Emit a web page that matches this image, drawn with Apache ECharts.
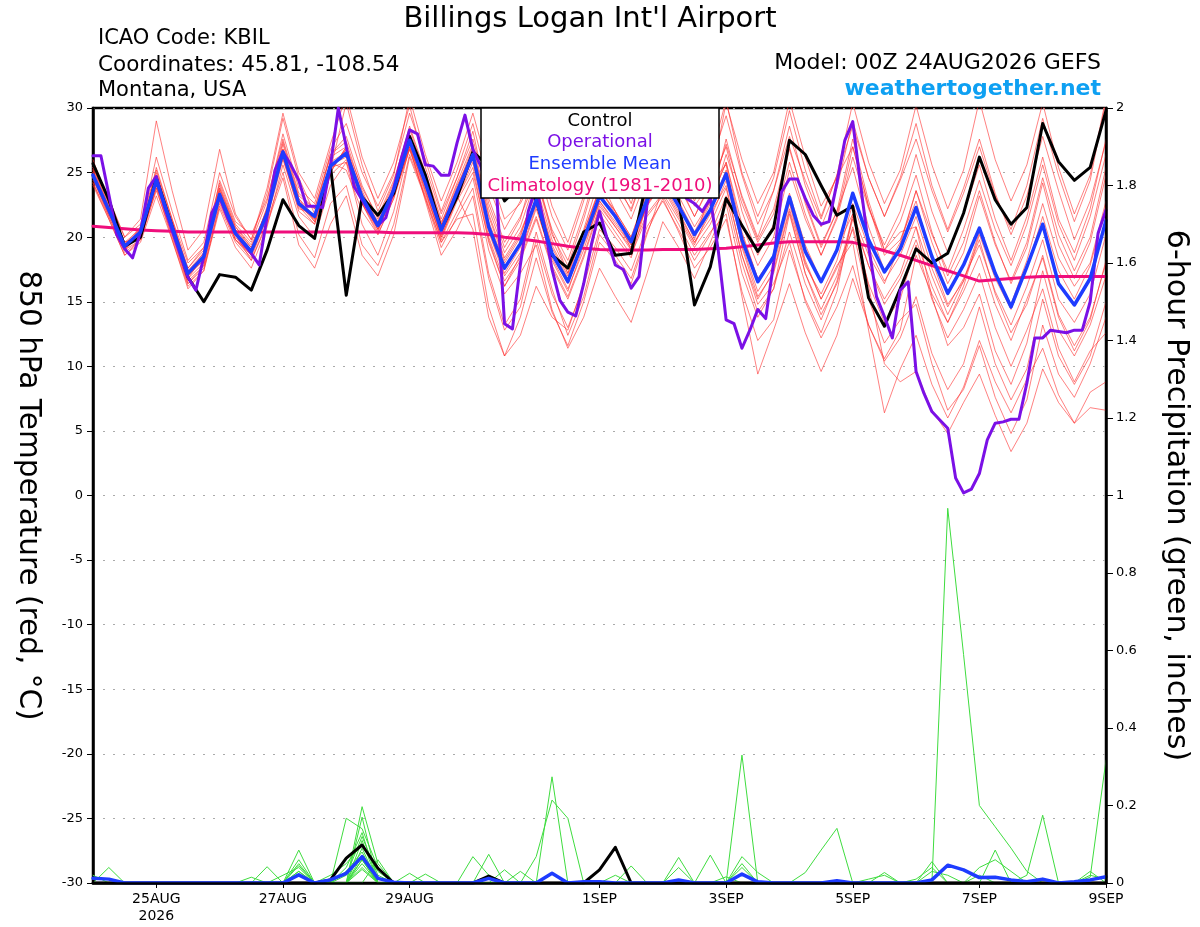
<!DOCTYPE html>
<html>
<head>
<meta charset="utf-8">
<title>Billings Logan Int'l Airport</title>
<script src="https://cdn.jsdelivr.net/npm/echarts@6/dist/echarts.min.js"></script>
<style>
  html, body { margin: 0; padding: 0; background: #fff; }
  #main { width: 1200px; height: 927px; }
</style>
</head>
<body>
<div id="main"></div>
<script>
// forecast hours: 0..384, members every 6 h, operational every 3 h
var tickHours  = [24, 72, 120, 192, 240, 288, 336, 384];
var tickLabels = ['25AUG\n2026', '27AUG', '29AUG', '1SEP', '3SEP', '5SEP', '7SEP', '9SEP'];

// 850 hPa temperature (C), 6-hourly
var controlTemp = [25.7,22.9,19.3,20.0, 24.6,20.8,16.9,15.0, 17.1,16.9,15.9,19.0, 22.9,20.9,19.9,25.5,
  15.5,23.1,21.7,23.4, 27.8,24.8,20.6,23.1, 26.6,25.5,22.8,24.0, 22.9,18.6,17.6,20.4,
  21.1,18.6,18.75,24.5, 25.5,22.9,14.75,17.7, 23.0,20.9,18.9,20.7, 27.5,26.4,24.0,21.7,
  22.4,15.3,13.1,16.0, 19.1,18.0,18.75,21.85, 26.2,22.9,21.0,22.3, 28.8,25.85,24.4,25.4, 29.8];

var meanTemp = [24.8,22.1,19.3,20.4, 24.4,20.8,17.2,18.5, 23.3,20.3,18.9,21.85, 26.6,22.6,21.6,25.5,
  26.5,23.1,20.9,23.65, 27.5,24.2,20.55,23.5, 26.4,20.8,17.6,19.5, 22.9,18.75,16.55,19.8,
  23.2,21.6,19.65,22.9, 24.5,22.4,20.2,22.1, 24.9,19.8,16.55,18.5, 23.1,18.9,16.55,19.0,
  23.4,19.8,17.3,19.1, 22.3,18.5,15.65,17.85, 20.7,17.2,14.6,17.7, 21.0,16.4,14.75,16.8, 21.3];

var climoTemp = [20.85,20.75,20.65,20.55, 20.5,20.45,20.4,20.4, 20.4,20.4,20.4,20.4, 20.4,20.4,20.4,20.4,
  20.4,20.4,20.4,20.35, 20.35,20.35,20.35,20.35, 20.3,20.2,20.0,19.85, 19.7,19.5,19.3,19.15,
  19.05,19.0,19.0,19.0, 19.05,19.05,19.05,19.1, 19.15,19.25,19.4,19.55, 19.65,19.65,19.65,19.65,
  19.6,19.3,18.95,18.6, 18.2,17.8,17.4,17.0, 16.6,16.7,16.8,16.9, 16.95,16.95,16.95,16.95, 16.95];

// operational run, 3-hourly
var operTemp = [26.3,26.3,23.3,20.2,19.1,18.4,20.4,23.8,
  24.7,22.4,20.5,18.7,16.9,15.9,18.5,21.85,
  23.1,21.5,20.3,19.5,18.75,17.85,21.6,25.2,
  26.6,25.6,24.4,22.4,22.4,22.3,25.5,30.0,
  27.0,23.9,22.9,21.85,20.9,21.5,23.8,26.2,
  28.3,28.0,25.6,25.5,24.8,24.8,27.3,29.45,
  26.8,25.5,23.5,23.5,13.3,12.9,17.85,22.0,
  24.0,21.0,17.5,15.1,14.2,13.9,16.4,19.5,
  22.0,19.8,17.85,17.5,16.05,16.95,22.5,25.5,
  25.5,24.5,24.0,23.0,22.6,22.0,23.0,19.0,
  13.6,13.3,11.4,12.8,14.4,13.7,18.0,23.5,
  24.5,24.5,23.0,21.7,21.0,21.2,24.2,27.5,
  28.95,24.0,19.3,15.4,13.85,12.2,15.9,16.55,
  9.6,7.9,6.5,5.85,5.2,1.35,0.2,0.5,
  1.7,4.3,5.6,5.7,5.9,5.9,8.7,12.2,
  12.2,12.8,12.7,12.6,12.8,12.8,15.0,20.3,
  22.1];

// ensemble members, 850 hPa temperature
var mem01 = [25.6,22.8,20.0,21.0, 25.2,21.4,18.0,19.2, 24.2,21.0,19.6,22.8, 28.0,23.8,22.6,26.8, 28.8,25.0,22.4,25.0, 29.6,26.0,22.0,25.2, 28.8,24.0,20.6,22.8, 26.8,22.4,19.6,23.2, 27.6,24.6,22.0,25.6, 28.6,25.4,22.8,25.6, 29.4,24.8,21.0,23.6, 28.6,24.0,20.8,23.8, 29.0,24.6,21.6,24.6, 28.8,24.0,20.6,23.8, 27.6,23.4,20.2,23.2, 27.8,23.6,19.8,22.8, 27.4];
var mem02 = [25.0,22.2,19.0,20.6, 26.2,22.0,18.2,19.6, 25.0,21.6,19.8,23.4, 29.2,24.6,21.8,25.2, 30.4,25.6,22.0,24.8, 30.8,26.4,22.8,25.8, 29.6,25.2,21.4,22.6, 25.0,20.4,17.2,20.6, 24.6,22.0,19.0,22.6, 26.8,24.2,21.6,24.2, 30.4,26.0,22.6,25.0, 30.6,26.2,22.4,24.6, 27.0,22.4,18.6,19.8, 22.8,18.2,14.8,16.6, 19.8,15.6,12.6,14.8, 18.6,14.0,11.6,13.8, 18.0];
var mem03 = [24.2,21.6,18.8,19.8, 23.6,20.2,16.4,17.6, 22.4,19.6,18.2,21.0, 24.6,19.4,17.6,21.0, 23.2,18.6,17.0,20.2, 26.2,23.0,19.6,21.4, 21.8,14.6,10.8,13.8, 18.4,14.2,11.6,15.0, 19.6,18.2,16.4,20.2, 23.8,21.6,19.4,22.2, 26.4,22.6,19.6,21.8, 26.8,22.8,19.4,22.0, 25.4,20.8,17.4,19.6, 23.6,19.6,16.4,18.8, 23.2,19.4,16.6,19.6, 24.6,20.2,17.4,20.0, 25.4];
var mem04 = [25.2,22.4,19.6,20.2, 24.8,20.6,16.8,18.0, 23.8,20.8,19.4,22.0, 27.2,23.0,21.2,25.0, 27.0,23.8,21.6,24.4, 28.4,24.8,21.2,23.2, 20.6,13.8,10.8,12.4, 16.2,13.8,12.8,16.4, 21.8,20.0,18.4,22.6, 25.4,22.6,19.8,23.4, 27.2,23.2,20.0,23.6, 27.8,24.4,21.4,24.8, 28.6,24.6,21.6,24.4, 27.6,23.6,20.4,23.4, 27.0,23.2,20.6,24.0, 29.2,24.8,21.2,24.4, 30.6];
var mem05 = [24.6,21.8,19.2,20.6, 24.0,20.4,16.8,18.6, 23.8,20.6,19.0,21.4, 26.0,22.2,21.8,26.4, 27.4,23.6,21.0,23.2, 27.0,23.8,20.2,23.0, 25.8,20.0,16.6,18.4, 21.6,17.8,15.4,18.6, 22.4,20.8,19.0,21.8, 23.4,21.4,19.2,21.0, 23.8,18.6,15.2,17.4, 22.2,17.8,15.6,18.2, 22.6,19.2,16.6,18.6, 21.6,17.6,14.6,16.8, 19.4,15.8,13.2,16.2, 19.8,15.2,13.4,15.6, 20.2];
var mem06 = [25.4,22.6,19.6,20.0, 23.8,21.2,17.6,19.2, 23.0,20.0,18.6,22.4, 27.4,23.2,22.2,26.2, 27.0,22.6,20.4,23.6, 27.8,24.6,21.0,24.2, 27.2,22.2,18.8,20.8, 24.6,20.2,17.8,21.4, 25.6,24.0,22.2,25.6, 27.6,25.0,22.4,24.2, 25.6,19.2,15.4,17.2, 22.0,17.2,14.4,17.0, 21.6,17.8,15.2,17.2, 20.8,17.0,14.0,16.6, 20.4,17.2,14.8,18.2, 22.6,18.4,16.2,18.0, 22.8];
var mem07 = [24.0,21.4,18.6,19.6, 23.2,19.8,16.2,17.4, 22.6,19.8,18.4,21.6, 26.2,22.4,21.4,25.8, 25.2,22.0,20.2,23.0, 27.2,23.6,19.8,22.8, 25.0,19.8,16.2,18.6, 22.2,18.4,16.0,19.0, 22.8,21.0,19.4,22.4, 24.2,22.0,19.6,21.8, 24.0,18.6,14.8,16.4, 19.6,15.0,12.2,14.6, 17.8,13.2,10.4,12.2, 15.4,11.0,8.2,10.2, 14.6,10.2,7.4,9.8, 15.2,10.8,8.6,10.8, 15.0];
var mem08 = [25.8,23.0,20.0,21.4, 29.0,23.6,19.0,20.6, 26.8,21.8,19.8,23.8, 29.6,25.0,23.0,27.2, 31.0,26.2,23.0,25.8, 30.2,25.4,21.8,24.6, 28.2,22.6,19.2,21.4, 25.8,21.6,19.0,22.8, 28.4,25.4,22.6,26.2, 29.8,26.2,23.4,26.0, 30.6,25.0,21.6,24.6, 29.8,25.2,21.6,24.8, 30.4,25.8,22.6,25.2, 30.2,25.6,22.2,25.2, 30.6,26.0,22.8,25.6, 30.4,25.4,21.8,24.8, 30.8];
var mem09 = [24.4,21.8,19.4,20.4, 24.2,20.4,16.6,17.8, 23.6,20.2,18.2,21.2, 25.0,20.2,18.4,22.6, 24.0,19.4,17.8,21.0, 26.4,23.2,19.6,22.0, 24.6,19.0,15.6,17.2, 19.4,14.4,11.4,13.8, 17.6,15.4,13.4,17.2, 21.2,19.2,16.8,19.6, 22.6,17.2,13.8,16.0, 20.4,16.4,13.6,16.6, 21.4,17.8,14.8,16.8, 19.8,16.2,13.4,15.8, 18.6,14.8,12.0,15.2, 18.4,13.8,11.2,13.6, 18.2];
var mem10 = [25.0,22.0,19.4,20.2, 24.6,21.0,17.4,18.6, 23.4,20.4,19.0,22.2, 26.8,23.0,21.6,25.6, 26.2,22.8,20.6,23.4, 27.6,24.0,20.2,23.6, 26.8,21.6,18.2,20.2, 23.6,19.4,17.0,20.4, 23.8,22.0,20.0,23.6, 25.2,22.8,20.4,22.8, 25.8,21.0,17.8,20.0, 25.2,21.4,18.6,21.4, 26.2,22.2,19.4,22.0, 26.4,22.0,18.8,21.8, 25.6,21.4,18.2,21.6, 26.2,21.4,18.8,22.2, 27.6];
var mem11 = [24.8,22.0,19.2,20.4, 24.4,20.6,17.0,18.2, 23.0,19.8,18.6,21.6, 26.4,22.6,21.2,25.2, 26.8,23.4,21.2,24.0, 27.8,24.4,20.8,23.8, 26.0,20.4,17.0,18.8, 22.4,18.2,15.8,19.4, 22.6,20.8,19.2,22.6, 24.0,21.8,19.6,21.4, 24.4,19.4,15.8,17.8, 22.6,18.0,15.2,17.6, 20.6,15.2,11.8,13.6, 14.8,10.2,6.6,8.2, 11.6,7.6,4.8,7.4, 13.2,9.4,7.6,10.2, 13.8];
var mem12 = [25.2,22.2,19.0,19.8, 24.0,20.0,16.4,17.8, 22.8,19.8,18.8,22.0, 26.6,22.6,21.6,25.8, 26.6,23.0,20.6,23.2, 26.8,23.4,20.0,23.0, 25.4,19.6,16.2,18.2, 21.4,17.6,15.2,18.4, 22.2,20.4,18.6,21.6, 23.2,21.0,18.6,20.4, 21.8,15.4,9.4,12.8, 16.4,12.6,9.6,12.4, 16.8,13.2,10.6,12.8, 18.6,15.6,13.4,16.2, 20.2,16.8,14.4,17.6, 21.6,17.4,15.2,17.8, 22.4];
var mem13 = [24.6,21.6,19.0,20.8, 25.0,21.2,17.6,19.0, 24.0,20.8,19.2,22.2, 26.6,22.4,21.0,24.8, 26.0,22.6,20.6,23.6, 27.4,24.0,20.6,23.8, 27.0,21.8,18.4,20.4, 23.4,19.2,16.8,20.0, 23.8,21.8,19.8,23.2, 25.0,22.6,20.2,22.6, 27.6,23.0,19.8,22.2, 27.0,22.6,19.2,22.0, 27.6,22.8,19.0,20.4, 20.8,15.4,11.6,13.0, 15.6,11.2,8.6,11.8, 17.4,12.8,10.8,13.2, 17.0];
var mem14 = [25.4,22.4,19.6,20.6, 24.6,20.6,17.0,18.4, 23.2,20.2,18.8,21.8, 26.8,22.8,21.6,25.4, 25.8,21.0,18.6,22.0, 27.0,22.8,18.6,20.6, 23.2,16.8,12.8,14.6, 19.8,15.6,13.0,16.2, 20.6,19.2,17.4,20.8, 22.8,20.6,18.2,20.2, 23.2,18.0,14.2,16.0, 21.8,17.2,14.0,16.4, 20.8,16.4,13.4,15.2, 19.4,15.2,12.2,14.4, 17.2,13.0,10.0,12.8, 16.0,11.4,8.8,11.2, 12.6];
var mem15 = [24.8,21.8,19.0,20.2, 24.2,20.6,17.2,18.8, 23.4,20.4,19.0,22.0, 26.8,22.6,21.4,25.4, 26.8,23.2,20.8,23.4, 27.0,23.6,20.0,23.0, 26.2,20.6,17.2,19.2, 22.6,18.6,16.4,19.6, 22.8,21.2,19.4,22.4, 24.8,22.6,20.2,22.2, 25.2,20.2,16.8,18.6, 23.4,19.4,16.6,19.2, 21.8,16.2,10.2,8.8, 9.6,6.6,4.8,7.2, 9.4,6.2,3.4,5.6, 9.8,7.2,5.6,8.0, 8.8];
var mem16 = [25.0,22.2,19.4,20.8, 24.4,21.0,17.4,18.8, 23.6,20.6,19.2,22.0, 26.2,22.0,21.0,25.0, 27.0,23.2,20.8,23.6, 28.0,24.6,21.0,24.0, 26.6,21.2,18.0,20.0, 24.0,19.8,17.2,20.4, 23.6,22.0,20.0,23.4, 25.6,23.2,20.8,22.8, 25.8,20.4,16.8,18.2, 22.8,18.2,15.2,17.8, 19.6,12.8,6.4,9.8, 12.4,8.6,6.0,8.4, 12.0,8.8,6.4,9.0, 11.4,7.8,5.6,6.8, 6.6];
var mem17 = [26.0,22.6,19.2,20.0, 25.4,21.4,17.2,18.2, 24.4,21.2,20.2,23.0, 27.6,23.4,22.2,26.4, 27.8,24.0,21.4,24.2, 28.6,25.0,21.4,24.6, 27.6,23.0,19.6,21.6, 24.6,20.6,18.2,21.8, 26.0,23.6,21.4,24.6, 26.4,24.0,21.6,24.0, 27.0,22.0,18.6,21.0, 25.8,21.8,18.6,21.6, 27.0,22.4,19.0,21.2, 24.8,20.4,17.0,19.6, 23.6,19.6,16.4,19.2, 24.2,19.4,16.8,19.6, 24.8];
var mem18 = [24.2,21.4,18.6,19.8, 23.8,19.8,16.0,17.4, 22.2,19.2,17.6,20.8, 25.6,21.6,20.0,24.0, 25.8,22.6,20.2,23.0, 26.8,23.0,19.2,21.6, 23.8,17.2,13.2,15.2, 20.4,16.0,12.4,15.4, 20.2,18.6,16.8,20.4, 23.0,20.4,17.6,19.2, 21.4,15.8,12.0,13.6, 19.0,15.2,12.6,15.8, 21.8,18.6,16.4,19.4, 23.6,20.2,17.4,20.6, 24.4,20.6,17.8,21.0, 25.6,21.0,18.2,21.6, 26.4];

// 6-hour precipitation (inches)
var controlPcp = [0,0,0,0, 0,0,0,0, 0,0,0,0, 0,0,0,0.008, 0.064,0.098,0.038,0, 0,0,0,0, 0,0.018,0,0, 0,0,0,0,
  0.034,0.092,0,0, 0,0,0,0, 0,0,0,0, 0,0,0,0, 0,0,0,0, 0,0,0,0, 0,0,0,0, 0,0,0,0, 0];
var meanPcp = [0.012,0.01,0,0, 0,0,0,0, 0,0,0,0, 0,0.021,0,0.008, 0.025,0.068,0.012,0.002, 0,0,0,0, 0,0.012,0,0, 0,0.025,0,0.003,
  0.003,0,0,0, 0,0.008,0,0, 0,0.023,0.003,0, 0,0,0,0.006, 0,0,0,0, 0,0.008,0.046,0.034, 0.014,0.015,0.008,0.003, 0.01,0,0.003,0.008, 0.016];

var gp01 = [0,0.04,0,0, 0,0,0,0, 0,0,0,0, 0,0.03,0,0, 0,0.06,0,0, 0,0,0,0, 0,0,0,0, 0,0,0,0, 0,0,0,0, 0,0,0,0, 0,0,0,0, 0,0,0,0, 0,0,0,0, 0,0,0,0, 0,0,0,0, 0,0,0,0, 0];
var gp02 = [0,0,0,0, 0,0,0,0, 0,0,0.015,0, 0,0.085,0,0, 0.02,0.12,0.02,0, 0,0,0,0, 0,0,0,0, 0,0,0,0, 0,0,0,0, 0,0,0,0, 0,0,0,0, 0,0,0,0, 0,0,0,0, 0,0,0,0, 0,0,0,0, 0,0,0,0, 0];
var gp03 = [0,0,0,0, 0,0,0,0, 0,0,0,0.042, 0,0.05,0,0, 0,0.197,0.05,0, 0,0,0,0, 0,0,0,0, 0,0,0,0, 0,0,0,0, 0,0,0,0, 0,0,0,0, 0,0,0,0, 0,0,0,0, 0,0,0,0, 0,0,0,0, 0,0,0,0, 0];
var gp04 = [0,0,0,0, 0,0,0,0, 0,0,0,0, 0,0.06,0,0, 0.167,0.14,0.04,0, 0,0,0,0, 0,0,0,0, 0,0,0,0, 0,0,0,0, 0,0,0,0, 0,0,0,0, 0,0,0,0, 0,0,0,0, 0,0,0,0, 0,0,0,0, 0,0,0,0, 0];
var gp05 = [0,0,0,0, 0,0,0,0, 0,0,0,0, 0.02,0.04,0,0, 0,0.17,0,0, 0,0,0,0, 0.068,0.02,0,0, 0,0,0,0, 0,0,0,0, 0,0,0,0, 0,0,0,0, 0,0,0,0, 0,0,0,0, 0,0,0,0, 0,0,0,0, 0,0,0,0, 0];
var gp06 = [0,0,0,0, 0,0,0,0, 0,0,0,0, 0,0.03,0,0.02, 0.05,0.10,0.03,0, 0,0,0,0, 0,0.074,0,0, 0,0,0,0, 0,0,0,0, 0,0,0,0, 0,0,0,0, 0,0,0,0, 0,0,0,0, 0,0,0,0, 0,0,0,0, 0,0,0,0, 0];
var gp07 = [0,0,0,0, 0,0,0,0, 0,0,0,0, 0,0.045,0,0, 0.03,0.08,0,0, 0.025,0,0,0, 0,0,0,0, 0,0.274,0,0, 0,0,0,0, 0,0.066,0,0, 0,0.04,0,0, 0,0,0,0, 0,0,0,0, 0,0,0,0, 0,0,0,0, 0,0,0,0, 0];
var gp08 = [0,0,0,0, 0,0,0,0, 0,0,0,0, 0,0,0,0, 0,0.05,0,0, 0,0.023,0,0, 0,0,0.034,0, 0.068,0.214,0.167,0, 0,0,0,0, 0,0,0,0, 0,0,0,0, 0,0,0,0, 0,0,0,0, 0,0,0,0, 0,0,0,0, 0,0,0,0, 0];
var gp09 = [0,0,0,0, 0,0,0,0, 0,0,0,0, 0,0,0,0, 0.04,0.13,0,0, 0,0,0,0, 0,0,0,0.03, 0,0,0,0, 0,0,0.044,0, 0,0,0,0, 0,0.33,0,0, 0,0,0,0, 0,0,0,0, 0,0,0,0, 0,0,0,0, 0,0,0,0, 0];
var gp10 = [0,0,0,0, 0,0,0,0, 0,0,0,0, 0,0,0,0, 0,0.09,0,0, 0,0,0,0, 0,0,0,0, 0,0,0,0, 0,0,0,0, 0,0.04,0,0.072, 0,0.05,0,0, 0,0.027,0.085,0.141, 0,0,0,0, 0,0,0,0, 0,0,0,0, 0,0,0,0, 0];
var gp11 = [0,0,0,0, 0,0,0,0, 0,0,0,0, 0,0,0,0, 0,0.11,0,0, 0,0,0,0, 0,0,0,0, 0,0,0,0, 0,0,0,0, 0,0,0,0, 0,0.068,0.027,0, 0,0,0,0, 0,0,0.027,0, 0,0.055,0,0, 0,0.085,0,0, 0,0,0,0, 0];
var gp12 = [0,0,0,0, 0,0,0,0, 0,0,0,0, 0,0,0,0, 0,0.07,0,0, 0,0,0,0, 0,0,0,0, 0,0,0,0, 0,0,0,0, 0,0,0,0, 0.016,0,0,0, 0,0,0,0, 0,0,0,0, 0,0,0.967,0.59, 0.2,0.145,0.09,0.03, 0,0,0,0, 0];
var gp13 = [0,0,0,0, 0,0,0,0, 0,0,0,0, 0,0,0,0, 0,0,0.06,0, 0,0,0,0, 0,0,0,0, 0,0,0,0, 0,0,0,0, 0,0,0,0, 0,0,0,0, 0,0,0,0, 0,0.01,0.02,0, 0,0.03,0.02,0, 0.04,0.06,0.03,0, 0,0,0,0, 0];
var gp14 = [0,0,0,0, 0,0,0,0, 0,0,0,0, 0,0,0,0, 0,0.06,0,0, 0,0,0,0, 0,0,0,0, 0,0,0,0, 0,0,0,0, 0,0,0,0, 0,0,0,0, 0,0,0,0, 0,0,0,0, 0,0,0,0, 0.02,0,0,0.02, 0.175,0,0,0.03, 0];
var gp15 = [0,0,0,0, 0,0,0,0, 0,0,0,0, 0,0,0,0, 0,0.04,0,0, 0,0,0,0, 0,0,0,0, 0,0,0,0, 0,0,0,0, 0,0,0,0, 0,0,0,0, 0,0,0,0, 0,0,0,0, 0,0,0,0, 0,0,0,0, 0,0,0,0.015, 0.317];
var gp16 = [0.02,0,0,0, 0,0,0,0, 0,0,0,0, 0,0.02,0,0, 0,0.035,0,0, 0,0,0,0, 0,0,0,0, 0,0,0,0, 0,0.02,0,0, 0,0,0,0, 0,0,0,0, 0,0,0,0, 0,0,0,0, 0.01,0.04,0,0, 0,0,0,0, 0,0,0,0.02, 0.01];

var members = [mem01, mem02, mem03, mem04, mem05, mem06, mem07, mem08, mem09,
               mem10, mem11, mem12, mem13, mem14, mem15, mem16, mem17, mem18];
var memberPcp = [gp01, gp02, gp03, gp04, gp05, gp06, gp07, gp08,
                 gp09, gp10, gp11, gp12, gp13, gp14, gp15, gp16];

var FONT = '"DejaVu Sans", "Liberation Sans", Arial, sans-serif';

function pairs(vals, stepHours) {
  return vals.map(function (v, i) { return [i * stepHours, v]; });
}

function lineSeries(vals, stepHours, axis, color, width, z) {
  return {
    type: 'line', data: pairs(vals, stepHours), yAxisIndex: axis,
    symbol: 'none', silent: true, z: z,
    lineStyle: { color: color, width: width, join: 'round', cap: 'round' }
  };
}

var series = [];
members.forEach(function (m) { series.push(lineSeries(m, 6, 0, 'rgba(255,45,45,0.6)', 1, 2)); });
memberPcp.forEach(function (m) { series.push(lineSeries(m, 6, 1, '#3fdc3f', 1, 3)); });
series.push(lineSeries(climoTemp, 6, 0, '#ef0e7c', 3, 4));
series.push(lineSeries(controlTemp, 6, 0, '#000000', 3, 5));
series.push(lineSeries(controlPcp, 6, 1, '#000000', 3, 5));
series.push(lineSeries(operTemp, 3, 0, '#7b10e6', 3, 6));
series.push(lineSeries(meanTemp, 6, 0, '#1e3cff', 3.5, 7));
series.push(lineSeries(meanPcp, 6, 1, '#1e3cff', 3.5, 7));

var chart = echarts.init(document.getElementById('main'));

var option = {
  animation: false,
  backgroundColor: '#fff',
  textStyle: { fontFamily: FONT },
  grid: { left: 93, right: 94, top: 108, bottom: 44, show: true, borderColor: '#000', borderWidth: 2.5 },
  xAxis: {
    type: 'value', min: 0, max: 384, z: 8,
    axisLine: { show: true, onZero: false, lineStyle: { color: '#000', width: 2.5 } },
    axisTick: { show: true, customValues: tickHours, length: 5, lineStyle: { color: '#000', width: 1 } },
    axisLabel: {
      customValues: tickHours, color: '#000', fontSize: 14, fontFamily: FONT, margin: 8, lineHeight: 17,
      formatter: function (v) { return tickLabels[tickHours.indexOf(v)]; }
    },
    splitLine: { show: false }
  },
  yAxis: [
    {
      type: 'value', min: -30, max: 30, interval: 5, position: 'left',
      axisLine: { show: true, lineStyle: { color: '#000', width: 2.5 } },
      axisTick: { show: true, length: 6, lineStyle: { color: '#000', width: 1 } },
      axisLabel: { color: '#000', fontSize: 13, fontFamily: FONT, margin: 10 },
      splitLine: { show: true, lineStyle: { color: '#aaaaaa', width: 1, type: [2, 8] } },
      name: '850 hPa Temperature (red, °C)', nameLocation: 'middle', nameRotate: -90, nameGap: 50,
      nameTextStyle: { fontSize: 29.5, color: '#000', fontFamily: FONT }
    },
    {
      type: 'value', min: 0, max: 2, interval: 0.2, position: 'right', z: 8,
      axisLine: { show: true, lineStyle: { color: '#000', width: 2.5 } },
      axisTick: { show: true, length: 7, lineStyle: { color: '#000', width: 1 } },
      axisLabel: { color: '#000', fontSize: 13, fontFamily: FONT, margin: 10 },
      splitLine: { show: false },
      name: '6-hour Precipitation (green, inches)', nameLocation: 'middle', nameRotate: -90, nameGap: 55,
      nameTextStyle: { fontSize: 30, color: '#000', fontFamily: FONT }
    }
  ],
  graphic: [
    { type: 'text', z: 100, style: { text: "Billings Logan Int'l Airport", x: 590, y: 19, textAlign: 'center', textVerticalAlign: 'middle', font: '29px ' + FONT, fill: '#000' } },
    { type: 'text', z: 100, style: { text: 'ICAO Code: KBIL', x: 98, y: 39, textAlign: 'left', textVerticalAlign: 'middle', font: '21px ' + FONT, fill: '#000' } },
    { type: 'text', z: 100, style: { text: 'Coordinates: 45.81, -108.54', x: 98, y: 65, textAlign: 'left', textVerticalAlign: 'middle', font: '21.5px ' + FONT, fill: '#000' } },
    { type: 'text', z: 100, style: { text: 'Montana, USA', x: 98, y: 91, textAlign: 'left', textVerticalAlign: 'middle', font: '21px ' + FONT, fill: '#000' } },
    { type: 'text', z: 100, style: { text: 'Model: 00Z 24AUG2026 GEFS', x: 1101, y: 63, textAlign: 'right', textVerticalAlign: 'middle', font: '22px ' + FONT, fill: '#000' } },
    { type: 'text', z: 100, style: { text: 'weathertogether.net', x: 1101, y: 89, textAlign: 'right', textVerticalAlign: 'middle', font: 'bold 22px ' + FONT, fill: '#0ea0f2' } },
    { type: 'rect', z: 100, shape: { x: 481, y: 108, width: 238, height: 90 }, style: { fill: '#fff', stroke: '#000', lineWidth: 1.5 } },
    { type: 'text', z: 101, style: { text: 'Control', x: 600, y: 121, textAlign: 'center', textVerticalAlign: 'middle', font: '18px ' + FONT, fill: '#000' } },
    { type: 'text', z: 101, style: { text: 'Operational', x: 600, y: 142, textAlign: 'center', textVerticalAlign: 'middle', font: '18px ' + FONT, fill: '#7b10e6' } },
    { type: 'text', z: 101, style: { text: 'Ensemble Mean', x: 600, y: 164, textAlign: 'center', textVerticalAlign: 'middle', font: '18px ' + FONT, fill: '#1e3cff' } },
    { type: 'text', z: 101, style: { text: 'Climatology (1981-2010)', x: 600, y: 186, textAlign: 'center', textVerticalAlign: 'middle', font: '18px ' + FONT, fill: '#ef0e7c' } }
  ],
  series: series
};

chart.setOption(option);
window.onresize = chart.resize;
</script>
</body>
</html>
